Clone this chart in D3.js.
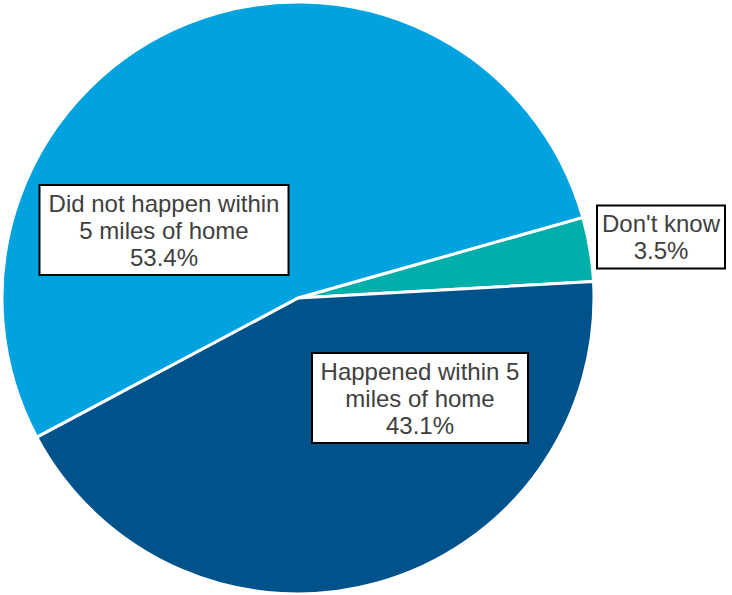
<!DOCTYPE html>
<html>
<head>
<meta charset="utf-8">
<script src="https://cdn.jsdelivr.net/npm/d3@7"></script>
<style>
  html, body { margin: 0; padding: 0; background: #fff; }
  svg { display: block; }
</style>
</head>
<body>
<svg id="chart" width="732" height="595"></svg>
<script>
// ---- data ----
const categories = ["Don't know", "Happened within 5 miles of home", "Did not happen within 5 miles of home"];
const values = [3.5, 43.1, 53.4];
const labelLines = [
  ["Don't know", "3.5%"],
  ["Happened within 5", "miles of home", "43.1%"],
  ["Did not happen within", "5 miles of home", "53.4%"]
];
const colors = ["#00AFA9", "#00528A", "#00A3E0"];

// ---- layout ----
const cx = 298, cy = 298, radius = 296;
const startDeg = 74.2;
// label box layout: centre offsets from pie centre, box size
const labelBoxes = [
  { dx: 363, dy: -61, w: 128, h: 63 },
  { dx: 122, dy: 100, w: 216, h: 90 },
  { dx: -134, dy: -68, w: 249, h: 90 }
];
const fontSize = 24, lineGap = 27;

const svg = d3.select("#chart");
const g = svg.append("g").attr("transform", `translate(${cx},${cy})`);

const startA = startDeg * Math.PI / 180;
const pie = d3.pie().sort(null).value(d => d.value)
  .startAngle(startA).endAngle(startA + 2 * Math.PI);
const data = categories.map((c, i) => ({ name: c, value: values[i], color: colors[i], lines: labelLines[i], box: labelBoxes[i] }));
const arcs = pie(data);
const arc = d3.arc().innerRadius(0).outerRadius(radius);

g.selectAll("path.slice").data(arcs).enter().append("path")
  .attr("class", "slice")
  .attr("d", arc)
  .attr("fill", d => d.data.color)
  .attr("stroke", "#fff")
  .attr("stroke-width", 3)
  .attr("stroke-linejoin", "miter");

const lbl = g.selectAll("g.lbl").data(arcs).enter().append("g")
  .attr("class", "lbl")
  .attr("transform", d => `translate(${d.data.box.dx},${d.data.box.dy})`);

lbl.append("rect")
  .attr("x", d => -d.data.box.w / 2)
  .attr("y", d => -d.data.box.h / 2)
  .attr("width", d => d.data.box.w)
  .attr("height", d => d.data.box.h)
  .attr("fill", "#fff")
  .attr("stroke", "#000")
  .attr("stroke-width", 2);

lbl.each(function(d) {
  const n = d.data.lines.length;
  const t = d3.select(this).append("text")
    .attr("text-anchor", "middle")
    .attr("font-family", "Liberation Sans, Arial, sans-serif")
    .attr("font-size", fontSize)
    .attr("fill", "#404040");
  d.data.lines.forEach((line, i) => {
    t.append("tspan")
      .attr("x", 0)
      .attr("y", (i - (n - 1) / 2) * lineGap + fontSize * 0.36)
      .text(line);
  });
});
</script>
</body>
</html>
